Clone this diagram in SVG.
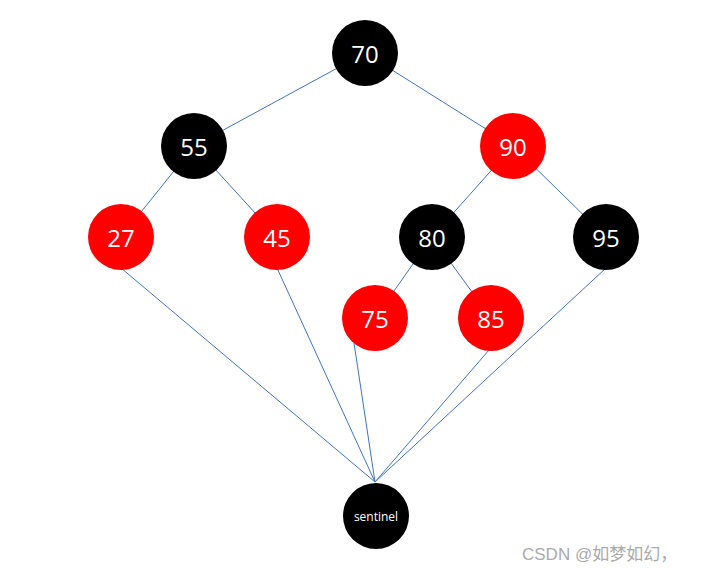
<svg xmlns="http://www.w3.org/2000/svg" width="702" height="574" viewBox="0 0 702 574">
<style>
.e{stroke:#4472C4;stroke-width:1;fill:none}
.b{fill:#000}
.r{fill:#FF0000}
.t{fill:#fff;font-family:"Open Sans","Liberation Sans",sans-serif;font-size:24px;text-anchor:middle;dominant-baseline:central}
.s{font-size:12px}
</style>
<rect width="702" height="574" fill="#fff"/>
<g id="connectors">
<line class="e" x1="365" y1="53" x2="194" y2="146"/>
<line class="e" x1="365" y1="53" x2="513" y2="146"/>
<line class="e" x1="194" y1="146" x2="121" y2="237"/>
<line class="e" x1="194" y1="146" x2="277" y2="237"/>
<line class="e" x1="513" y1="146" x2="432" y2="237"/>
<line class="e" x1="513" y1="146" x2="606" y2="237"/>
<line class="e" x1="432" y1="237" x2="375" y2="318"/>
<line class="e" x1="432" y1="237" x2="491" y2="318"/>
<line class="e" x1="121" y1="268" x2="375" y2="482"/>
<line class="e" x1="277" y1="268" x2="375" y2="482"/>
<line class="e" x1="354" y1="343" x2="375" y2="482"/>
<line class="e" x1="489" y1="350" x2="375" y2="482"/>
<line class="e" x1="606" y1="268" x2="375" y2="482"/>
</g>
<g id="n70"><circle class="b" cx="365" cy="53" r="33"/><text class="t" x="365" y="53">70</text></g>
<g id="n55"><circle class="b" cx="194" cy="146" r="33"/><text class="t" x="194" y="146">55</text></g>
<g id="n90"><circle class="r" cx="513" cy="146" r="33"/><text class="t" x="513" y="146">90</text></g>
<g id="n27"><circle class="r" cx="121" cy="237" r="33"/><text class="t" x="121" y="237">27</text></g>
<g id="n45"><circle class="r" cx="277" cy="237" r="33"/><text class="t" x="277" y="237">45</text></g>
<g id="n80"><circle class="b" cx="432" cy="237" r="33"/><text class="t" x="432" y="237">80</text></g>
<g id="n95"><circle class="b" cx="606" cy="237" r="33"/><text class="t" x="606" y="237">95</text></g>
<g id="n75"><circle class="r" cx="375" cy="318" r="33"/><text class="t" x="375" y="318">75</text></g>
<g id="n85"><circle class="r" cx="491" cy="318" r="33"/><text class="t" x="491" y="318">85</text></g>
<g id="sentinel"><circle class="b" cx="376" cy="516" r="33"/><text class="t s" x="376" y="516">sentinel</text></g>
<text x="522" y="560" fill="#aaa" font-family="'Liberation Sans','Noto Sans CJK SC',sans-serif" font-size="17">CSDN @如梦如幻，</text>
</svg>
